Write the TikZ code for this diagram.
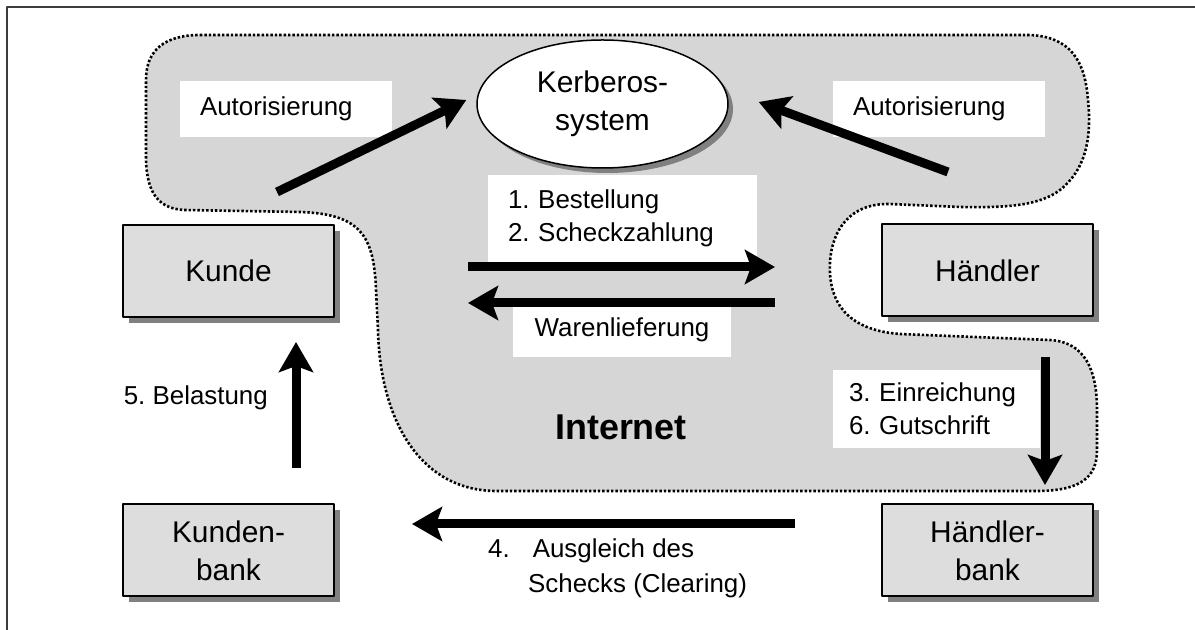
\documentclass[tikz,border=0pt]{standalone}
\usepackage{fontspec}
\setmainfont{Liberation Sans}
\usetikzlibrary{arrows.meta,shapes.geometric,shadows}
\definecolor{boxgray}{RGB}{221,221,221}
\definecolor{netgray}{RGB}{214,214,214}
\definecolor{shadowgray}{RGB}{128,128,128}
\definecolor{framecol}{RGB}{60,60,60}
\frenchspacing

\begin{document}
\begin{tikzpicture}[>={Stealth[length=30bp,width=34bp,inset=6bp]},line join=bevel,
  party/.style={draw,line width=2bp,fill=boxgray,minimum width=211bp,minimum height=92bp,
    inner sep=0pt,align=center,font=\fontsize{30}{38}\selectfont,
    general shadow={fill=shadowgray,shadow xshift=6bp,shadow yshift=-6bp}},
  server/.style={ellipse,draw,line width=1.5bp,fill=white,minimum width=251bp,
    minimum height=128bp,inner sep=0pt,align=center,font=\fontsize{30}{38}\selectfont,
    general shadow={fill=shadowgray,shadow xshift=5bp,shadow yshift=-5bp}},
  lbl/.style={fill=white,inner xsep=20bp,align=left,font=\fontsize{26}{33}\selectfont},
  note/.style={inner sep=0pt,align=left,font=\fontsize{26}{35}\selectfont},
  flow/.style={->,line width=9bp},
  net/.style={fill=netgray,draw=black,line width=2.6bp,dash pattern=on 2.4bp off 2bp}]
\useasboundingbox (0bp,0bp) rectangle (1195bp,630bp);
%%
  % Frame
  \draw[framecol,line width=1.5bp] (7bp,0bp) -- (7bp,623bp) -- (1195bp,623bp);
  % Area: Internet
  \draw[net] (200bp,595bp) -- (1030bp,595bp)
    .. controls (1070bp,593bp) and (1085bp,570bp) .. (1088bp,530bp)
    .. controls (1092bp,490bp) and (1085bp,460bp) .. (1060bp,440bp)
    .. controls (1040bp,425bp) and (1010bp,422bp) .. (960bp,423bp)
    -- (890bp,426bp)
    .. controls (850bp,427bp) and (832bp,400bp) .. (830bp,368bp)
    .. controls (828bp,330bp) and (845bp,300bp) .. (900bp,296bp)
    -- (1050bp,290bp)
    .. controls (1085bp,288bp) and (1097bp,260bp) .. (1097bp,220bp)
    -- (1097bp,180bp)
    .. controls (1097bp,152bp) and (1080bp,140bp) .. (1040bp,139bp)
    -- (495bp,139bp)
    .. controls (420bp,140bp) and (380bp,210bp) .. (378bp,300bp)
    -- (376bp,340bp)
    .. controls (374bp,395bp) and (360bp,416bp) .. (300bp,418bp)
    -- (185bp,420bp)
    .. controls (160bp,421bp) and (147bp,435bp) .. (146bp,470bp)
    -- (146bp,550bp)
    .. controls (146bp,580bp) and (165bp,595bp) .. (200bp,595bp)
    -- cycle;
  \node[font=\fontsize{36}{40}\selectfont\bfseries] (internet) at (621bp,203bp) {Internet};
  % Node: kerberos
  \node[server] (kerberos) at (602.5bp,526bp) {Kerberos-\\system};
  % Node: kunde
  \node[party] (kunde) at (228.5bp,359bp) {Kunde};
  % Node: haendler
  \node[party] (haendler) at (987.5bp,359.5bp) {Händler};
  % Node: kbank
  \node[party] (kbank) at (228.5bp,79.5bp) {Kunden-\\bank};
  % Node: hbank
  \node[party] (hbank) at (987.5bp,79.5bp) {Händler-\\bank};
  % Labels
  \node[lbl,text width=172bp,minimum height=56bp] (autl) at (286bp,521bp) {Autorisierung};
  \node[lbl,text width=172bp,minimum height=56bp] (autr) at (939bp,521bp) {Autorisierung};
  \node[lbl,text width=229bp,minimum height=87bp] (best) at (622.5bp,411.5bp) {1. Bestellung\\2. Scheckzahlung};
  \node[lbl,align=center,text width=178bp,minimum height=54bp] (waren) at (622bp,300bp) {Warenlieferung};
  \node[lbl,text width=175bp,inner xsep=16bp,minimum height=78bp] (einr) at (936.5bp,221bp) {3. Einreichung\\6. Gutschrift};
  \node[note,anchor=base east] (belast) at (268bp,225bp) {5. Belastung};
  \node[note,anchor=north west] (ausgl) at (488bp,91bp) {4.\hspace*{23bp}Ausgleich des\\\hspace*{40bp}Schecks (Clearing)};
  % Edge: kunde -> kerberos
  \coordinate (kk) at (277bp,438bp);
  \draw[flow] (kk) -- ([shift={(-10bp,4bp)}]kerberos.west);
  % Edge: haendler -> kerberos
  \coordinate (hk) at (948bp,458bp);
  \draw[flow] (hk) -- ([shift={(30bp,2bp)}]kerberos.east);
  % Edge: kunde -> haendler
  \coordinate (kh1) at (468bp,363bp);
  \coordinate (kh2) at (775bp,363bp);
  \draw[flow] (kh1) -- (kh2);
  % Edge: haendler -> kunde
  \coordinate (hk1) at (775bp,327bp);
  \coordinate (hk2) at (468bp,327bp);
  \draw[flow] (hk1) -- (hk2);
  % Edge: haendler -> hbank
  \coordinate (hh1) at (1045bp,273bp);
  \coordinate (hh2) at (1045bp,145bp);
  \draw[flow] (hh1) -- (hh2);
  % Edge: hbank -> kbank
  \coordinate (bb1) at (795bp,106bp);
  \coordinate (bb2) at (412bp,106bp);
  \draw[flow] (bb1) -- (bb2);
  % Edge: kbank -> kunde
  \coordinate (kb1) at (296bp,162bp);
  \coordinate (kb2) at (296bp,288bp);
  \draw[flow] (kb1) -- (kb2);
%
\end{tikzpicture}
\end{document}
